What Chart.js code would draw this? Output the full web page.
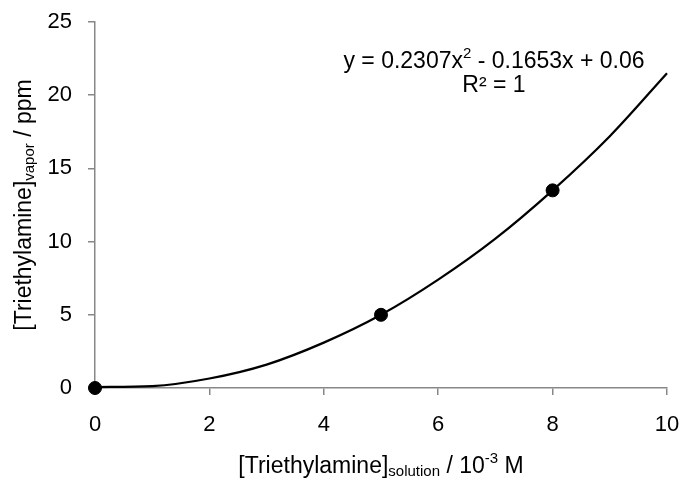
<!DOCTYPE html>
<html lang="en">
<head>
    <meta charset="UTF-8">
    <title>Triethylamine vapor vs solution</title>
    <script src="https://cdn.jsdelivr.net/npm/chart.js"></script>
    <style>
        html, body { margin: 0; padding: 0; background: #fff; }
        #wrap { width: 683px; height: 481px; }
    </style>
</head>
<body>
    <div id="wrap"><canvas id="curveChart"></canvas></div>

<script>
    // measured points
    const measX = [0, 5, 8];
    const measY = [0, 5, 13.5];

    // trendline
    const trendX = [0, 1, 2, 3, 4, 5, 6, 7, 8, 9, 10];
    const trendY = [0.06, 0.13, 0.65, 1.6, 3.1, 5.0, 7.4, 10.2, 13.5, 17.2, 21.5];

    const xTicks = [0, 2, 4, 6, 8, 10];
    const yTicks = [0, 5, 10, 15, 20, 25];

    const FONT = '"Liberation Sans", Arial, sans-serif';
    const axisGray = '#878787';
    const BIG = 23, SMALL = 15;

    // draws text with sub/superscript parts, centred on x
    function drawRich(ctx, parts, x, y) {
        let total = 0;
        parts.forEach(p => {
            ctx.font = (p.s ? SMALL : BIG) + 'px ' + FONT;
            p.w = ctx.measureText(p.t).width;
            total += p.w;
        });
        let cx = x - total / 2;
        parts.forEach(p => {
            ctx.font = (p.s ? SMALL : BIG) + 'px ' + FONT;
            let dy = p.s === 'sub' ? 5 : (p.s === 'sup' ? -8 : 0);
            ctx.fillText(p.t, cx, y + dy);
            cx += p.w;
        });
    }

    const labelsPlugin = {
        id: 'labels',
        afterDraw(chart) {
            const ctx = chart.ctx;
            ctx.save();
            ctx.fillStyle = '#000';
            ctx.textAlign = 'left';
            ctx.textBaseline = 'middle';

            // x axis title
            drawRich(ctx, [
                { t: '[Triethylamine]' },
                { t: 'solution', s: 'sub' },
                { t: ' / 10' },
                { t: '-3', s: 'sup' },
                { t: ' M' }
            ], 381, 467);

            // y axis title (rotated)
            ctx.save();
            ctx.translate(25, 205);
            ctx.rotate(-Math.PI / 2);
            drawRich(ctx, [
                { t: '[Triethylamine]' },
                { t: 'vapor', s: 'sub' },
                { t: ' / ppm' }
            ], 0, 0);
            ctx.restore();

            // trendline equation
            drawRich(ctx, [
                { t: 'y = 0.2307x' },
                { t: '2', s: 'sup' },
                { t: ' - 0.1653x + 0.06' }
            ], 494, 62);
            drawRich(ctx, [{ t: 'R² = 1' }], 494, 86);
            ctx.restore();
        }
    };

    const ctx = document.getElementById('curveChart').getContext('2d');
    const curveChart = new Chart(ctx, {
        type: 'scatter',
        data: {
            datasets: [{
                label: 'trend',
                data: trendX.map((x, i) => ({ x: x, y: trendY[i] })),
                showLine: true,
                borderColor: '#000',
                borderWidth: 2.25,
                pointRadius: 0,
                cubicInterpolationMode: 'monotone',
                clip: false
            }, {
                label: 'measured',
                data: measX.map((x, i) => ({ x: x, y: measY[i] })),
                backgroundColor: '#000',
                borderColor: '#000',
                pointRadius: 6.5,
                clip: false
            }]
        },
        options: {
            responsive: true,
            maintainAspectRatio: false,
            animation: false,
            layout: { padding: { top: 22, right: 16, left: 0, bottom: 0 } },
            plugins: {
                legend: { display: false },
                tooltip: { enabled: false }
            },
            scales: {
                x: {
                    type: 'linear',
                    min: 0,
                    max: 10,
                    afterBuildTicks: s => { s.ticks = xTicks.map(v => ({ value: v })); },
                    afterFit: s => { s.height = 93; s.paddingLeft = 0; s.paddingRight = 0; },
                    grid: { drawOnChartArea: false, drawTicks: true, tickLength: 7, color: axisGray, lineWidth: 1.5 },
                    border: { color: axisGray, width: 1.5 },
                    ticks: { color: '#000', font: { family: FONT, size: 22 }, padding: 17 }
                },
                y: {
                    type: 'linear',
                    min: 0,
                    max: 25,
                    afterBuildTicks: s => { s.ticks = yTicks.map(v => ({ value: v })); },
                    afterFit: s => { s.width = 95; s.paddingTop = 0; s.paddingBottom = 0; },
                    grid: { drawOnChartArea: false, drawTicks: true, tickLength: 7, color: axisGray, lineWidth: 1.5 },
                    border: { color: axisGray, width: 1.5 },
                    ticks: { color: '#000', font: { family: FONT, size: 22 }, padding: 16 }
                }
            }
        },
        plugins: [labelsPlugin]
    });
</script>
</body>
</html>
